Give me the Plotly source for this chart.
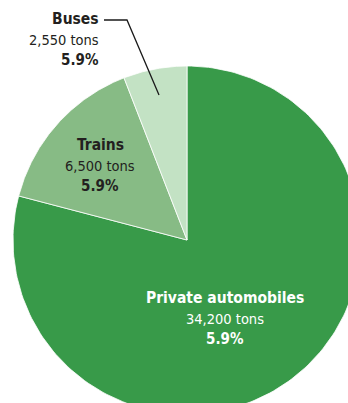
import numpy as np
import plotly.graph_objects as go

categories = ["Private automobiles", "Trains", "Buses"]
tons = [34200, 6500, 2550]
tons_labels = ["34,200 tons", "6,500 tons", "2,550 tons"]
pct_labels = ["5.9%", "5.9%", "5.9%"]
colors = ["#389A49", "#87BB85", "#C3E2C4"]

W, H = 348, 403
CX, CY, R = 187, 240, 174
FONT = "DejaVu Sans Condensed, sans-serif"

fig = go.Figure()
total = sum(tons)
start = 90.0
for name, v, c in zip(categories, tons, colors):
    sweep = 360.0 * v / total
    th = np.radians(np.linspace(start, start - sweep, 200))
    xs = np.concatenate([[CX], CX + R * np.cos(th), [CX]])
    ys = np.concatenate([[CY], CY - R * np.sin(th), [CY]])
    fig.add_trace(go.Scatter(x=xs, y=ys, fill="toself", fillcolor=c, mode="lines",
                             line=dict(color="white", width=0.8), hoverinfo="skip",
                             showlegend=False, name=name))
    start -= sweep

# leader line for Buses
fig.add_trace(go.Scatter(x=[104, 127, 159], y=[20, 20, 95], mode="lines",
                         line=dict(color="#1a1a1a", width=1.3), hoverinfo="skip",
                         showlegend=False))

def label(x, y, idx, color, xanchor):
    lines = [(categories[idx], True, 15.5, 0), (tons_labels[idx], False, 14.5, 21), (pct_labels[idx], True, 15, 41)]
    for txt, bold, size, dy in lines:
        fig.add_annotation(x=x, y=y + dy, xref="x", yref="y", text=f"<b>{txt}</b>" if bold else txt,
                           showarrow=False, xanchor=xanchor, yanchor="middle",
                           font=dict(family=FONT, size=size, color=color))

label(225, 298, 0, "white", "center")
label(100, 145, 1, "#231F20", "center")
label(101, 19, 2, "#231F20", "right")

fig.update_layout(
    width=W, height=H, margin=dict(l=0, r=0, t=0, b=0),
    paper_bgcolor="white", plot_bgcolor="white",
    xaxis=dict(range=[0, W], visible=False, fixedrange=True),
    yaxis=dict(range=[H, 0], visible=False, fixedrange=True),
)
fig.write_html("out.html")
